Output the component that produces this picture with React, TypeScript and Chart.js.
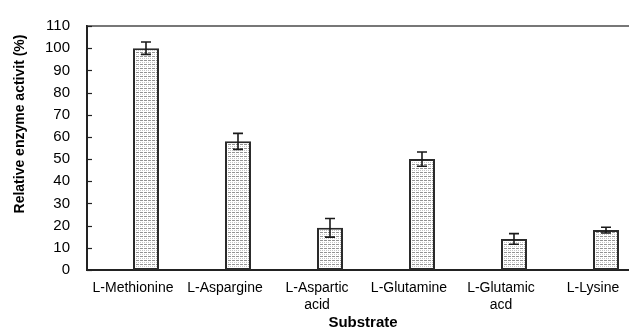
import { useEffect, useRef } from "react";
import { Chart, registerables } from "chart.js";

Chart.register(...registerables);

// Substrates tested, with relative activity (%) and its error
const substrates: (string | string[])[] = [
  "L-Methionine",
  "L-Aspargine",
  ["L-Aspartic", "acid"],
  "L-Glutamine",
  ["L-Glutamic", "acd"],
  "L-Lysine",
];
const activity = [100, 58, 19, 50, 14, 18];
const activityError = [2.8, 3.6, 4.2, 3.2, 2.4, 1.3];

const yMin = 0;
const yMax = 110;
const yStep = 10;

const yTitle = "Relative enzyme activit (%)";
const xTitle = "Substrate";

const FONT = "'Liberation Sans', Arial, Helvetica, sans-serif";

function makeStipple(): CanvasPattern | string {
  const tile = document.createElement("canvas");
  tile.width = 4;
  tile.height = 4;
  const t = tile.getContext("2d");
  if (!t) return "#ddd";
  t.fillStyle = "#ffffff";
  t.fillRect(0, 0, 4, 4);
  t.fillStyle = "#939393";
  t.fillRect(0, 0, 3, 1);
  t.fillStyle = "#c4c4c4";
  t.fillRect(0, 2, 1, 1);
  t.fillRect(2, 2, 1, 1);
  const p = t.createPattern(tile, "repeat");
  return p ?? "#ddd";
}

// Top frame line, inward y ticks, error bars and the rotated y title
const decorations = {
  id: "decorations",
  afterDatasetsDraw(chart: any) {
    const { ctx, chartArea, scales } = chart;
    const y = scales.y;
    ctx.save();

    ctx.strokeStyle = "#4a4a4a";
    ctx.lineWidth = 1.6;
    ctx.beginPath();
    ctx.moveTo(chartArea.left, chartArea.top);
    ctx.lineTo(chartArea.right, chartArea.top);
    ctx.stroke();

    ctx.strokeStyle = "#222";
    ctx.lineWidth = 1.2;
    y.ticks.forEach((t: any) => {
      const py = Math.round(y.getPixelForValue(t.value)) + 0.5;
      ctx.beginPath();
      ctx.moveTo(chartArea.left, py);
      ctx.lineTo(chartArea.left + 5, py);
      ctx.stroke();
    });

    const meta = chart.getDatasetMeta(1);
    ctx.strokeStyle = "#1a1a1a";
    ctx.lineWidth = 1.6;
    meta.data.forEach((bar: any, i: number) => {
      const cx = bar.x;
      const hi = y.getPixelForValue(activity[i] + activityError[i]);
      const lo = y.getPixelForValue(activity[i] - activityError[i]);
      ctx.beginPath();
      ctx.moveTo(cx, hi);
      ctx.lineTo(cx, lo);
      ctx.moveTo(cx - 5, hi);
      ctx.lineTo(cx + 5, hi);
      ctx.moveTo(cx - 5, lo);
      ctx.lineTo(cx + 5, lo);
      ctx.stroke();
    });

    ctx.fillStyle = "#000";
    ctx.font = `bold 14px ${FONT}`;
    ctx.textAlign = "center";
    ctx.textBaseline = "middle";
    ctx.translate(20, 124);
    ctx.rotate(-Math.PI / 2);
    ctx.fillText(yTitle, 0, 0);
    ctx.restore();
  },
};

export default function App() {
  const canvasRef = useRef<HTMLCanvasElement | null>(null);

  useEffect(() => {
    const canvas = canvasRef.current;
    if (!canvas) return;
    const stipple = makeStipple();

    const chart = new Chart(canvas, {
      type: "bar",
      data: {
        labels: substrates as any,
        datasets: [
          // empty leading series keeps each bar right of its category centre
          { label: "", data: [], backgroundColor: "transparent" },
          {
            label: "Activity",
            data: activity,
            backgroundColor: stipple as any,
            borderColor: "#2a2a2a",
            borderWidth: 2,
            borderSkipped: false,
            categoryPercentage: 0.565,
            barPercentage: 1,
          },
        ],
      },
      options: {
        responsive: false,
        animation: false,
        devicePixelRatio: 1,
        layout: { padding: { top: 20, right: 0, bottom: 0, left: 0 } },
        plugins: {
          legend: { display: false },
          tooltip: { enabled: false },
        },
        datasets: {
          bar: { categoryPercentage: 0.565, barPercentage: 1 },
        },
        scales: {
          x: {
            type: "category",
            offset: true,
            grid: { display: false, drawTicks: false },
            border: { display: true, color: "#222", width: 2 },
            ticks: {
              color: "#000",
              font: { family: FONT, size: 14 },
              padding: 10,
              maxRotation: 0,
              autoSkip: false,
            },
            title: {
              display: true,
              text: xTitle,
              color: "#000",
              font: { family: FONT, size: 15, weight: "bold" },
              padding: { top: 0, bottom: 0 },
            },
            afterFit(scale: any) {
              scale.height = 62;
            },
          },
          y: {
            min: yMin,
            max: yMax,
            grid: { display: false, drawTicks: false },
            border: { display: true, color: "#222", width: 2 },
            ticks: {
              stepSize: yStep,
              color: "#000",
              font: { family: FONT, size: 15 },
              padding: 17,
            },
            afterFit(scale: any) {
              scale.width = 87;
            },
          },
        },
      },
      plugins: [decorations],
    });

    return () => chart.destroy();
  }, []);

  return (
    <div
      style={{
        position: "absolute",
        left: 0,
        top: 0,
        width: 629,
        height: 332,
        overflow: "hidden",
        background: "#fff",
      }}
    >
      <canvas ref={canvasRef} width={639} height={332} style={{ display: "block" }} />
    </div>
  );
}
